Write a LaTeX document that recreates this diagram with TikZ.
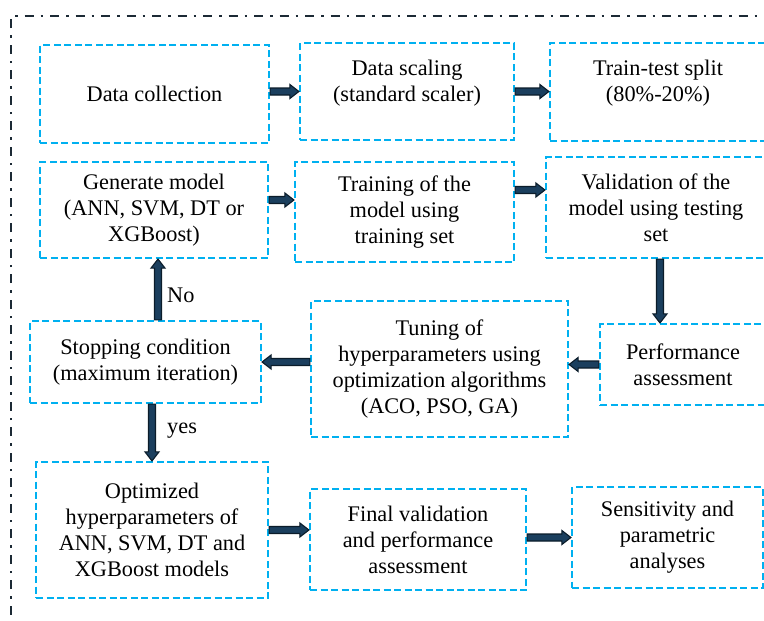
\documentclass[tikz,border=0pt]{standalone}
\usepackage{fontspec}
\setmainfont{Liberation Serif}
\usetikzlibrary{calc}
\definecolor{boxblue}{HTML}{00B0F0}
\definecolor{framedark}{HTML}{1C2A35}
\definecolor{arrfill}{HTML}{1B3F5E}
\definecolor{arrline}{HTML}{0B1C2A}
\tikzset{
  box/.style={draw=boxblue, line width=2.2pt, dash pattern=on 7pt off 3.5pt,
    rectangle, inner sep=0pt, align=center,
    font=\rmfamily\fontsize{22.3pt}{26pt}\selectfont, text=black},
  barrow/.style={fill=arrfill, draw=arrline, line width=1.1pt, line join=miter},
  lbl/.style={font=\rmfamily\fontsize{22.3pt}{26pt}\selectfont, inner sep=0pt, anchor=west},
  outerframe/.style={draw=framedark, line width=2pt,
    dash pattern=on 9pt off 7pt on 2.5pt off 7pt}
}
\newcommand\blockarrow[2]{%
  \path (#1) coordinate (ba-s) (#2) coordinate (ba-e);
  \coordinate (ba-h) at ($(ba-e)!9pt!(ba-s)$);
  \draw[barrow] ($(ba-s)!3.5pt!90:(ba-e)$) -- ($(ba-h)!3.5pt!90:(ba-e)$)
    -- ($(ba-h)!7pt!90:(ba-e)$) -- (ba-e) -- ($(ba-h)!7pt!-90:(ba-e)$)
    -- ($(ba-h)!3.5pt!-90:(ba-e)$) -- ($(ba-s)!3.5pt!-90:(ba-e)$) -- cycle;
}
\begin{document}
\begin{tikzpicture}[x=1pt, y=-1pt]
\useasboundingbox (0,0) rectangle (764,621);
% outer dash-dot frame
\draw[outerframe] (11,640) -- (11,16) -- (790,16);

% boxes
\node[box, minimum width=229pt, minimum height=98pt] (b1) at (154.5,94) {Data collection};
\node[box, minimum width=214pt, minimum height=97pt] (b2) at (407,91.5) {Data scaling\\(standard scaler)\\[-4pt]\mbox{}};
\node[box, minimum width=216pt, minimum height=98pt] (b3) at (658,92) {Train-test split\\(80\%-20\%)\\[-4pt]\mbox{}};
\node[box, minimum width=228pt, minimum height=96pt] (b4) at (154,210) {Generate model\\(ANN, SVM, DT or\\XGBoost)};
\node[box, minimum width=219pt, minimum height=100pt] (b5) at (404.5,212) {Training of the\\model using\\training set};
\node[box, minimum width=220pt, minimum height=101pt] (b6) at (656,207.5) {Validation of the\\model using testing\\set};
\node[box, minimum width=231pt, minimum height=82pt] (b7) at (145.5,362) {Stopping condition\\(maximum iteration)};
\node[box, minimum width=257pt, minimum height=136pt] (b8) at (439.5,369) {Tuning of\\hyperparameters using\\optimization algorithms\\(ACO, PSO, GA)};
\node[box, minimum width=166pt, minimum height=81pt] (b9) at (683,364.5) {Performance\\assessment};
\node[box, minimum width=232pt, minimum height=136pt] (b10) at (152,530) {Optimized\\hyperparameters of\\ANN, SVM, DT and\\XGBoost models};
\node[box, minimum width=216pt, minimum height=101pt] (b11) at (418,539.5) {Final validation\\and performance\\assessment};
\node[box, minimum width=191pt, minimum height=101pt] (b12) at (667.5,537.5) {Sensitivity and\\parametric\\analyses};

% helper coordinates for connector positions
\coordinate (ca3) at (0,200);
\coordinate (ca4) at (0,190);
\coordinate (ca5) at (660,0);
\coordinate (ca8) at (158,0);

% connectors
\blockarrow{b2.west -| b1.east}{b2.west}
\blockarrow{b2.east}{b2.east -| b3.west}
\blockarrow{b4.east |- ca3}{b5.west |- ca3}
\blockarrow{b5.east |- ca4}{b6.west |- ca4}
\blockarrow{b6.south -| ca5}{b9.north -| ca5}
\blockarrow{b9.west}{b9.west -| b8.east}
\blockarrow{b7.east -| b8.west}{b7.east}
\blockarrow{b7.north -| ca8}{b4.south -| ca8}
\blockarrow{b10.north |- b7.south}{b10.north}
\blockarrow{b10.east}{b10.east -| b11.west}
\blockarrow{b12.west -| b11.east}{b12.west}

% labels
\node[lbl] (lno) at (167,295) {No};
\node[lbl] (lyes) at (167,431) {yes};
\end{tikzpicture}
\end{document}
